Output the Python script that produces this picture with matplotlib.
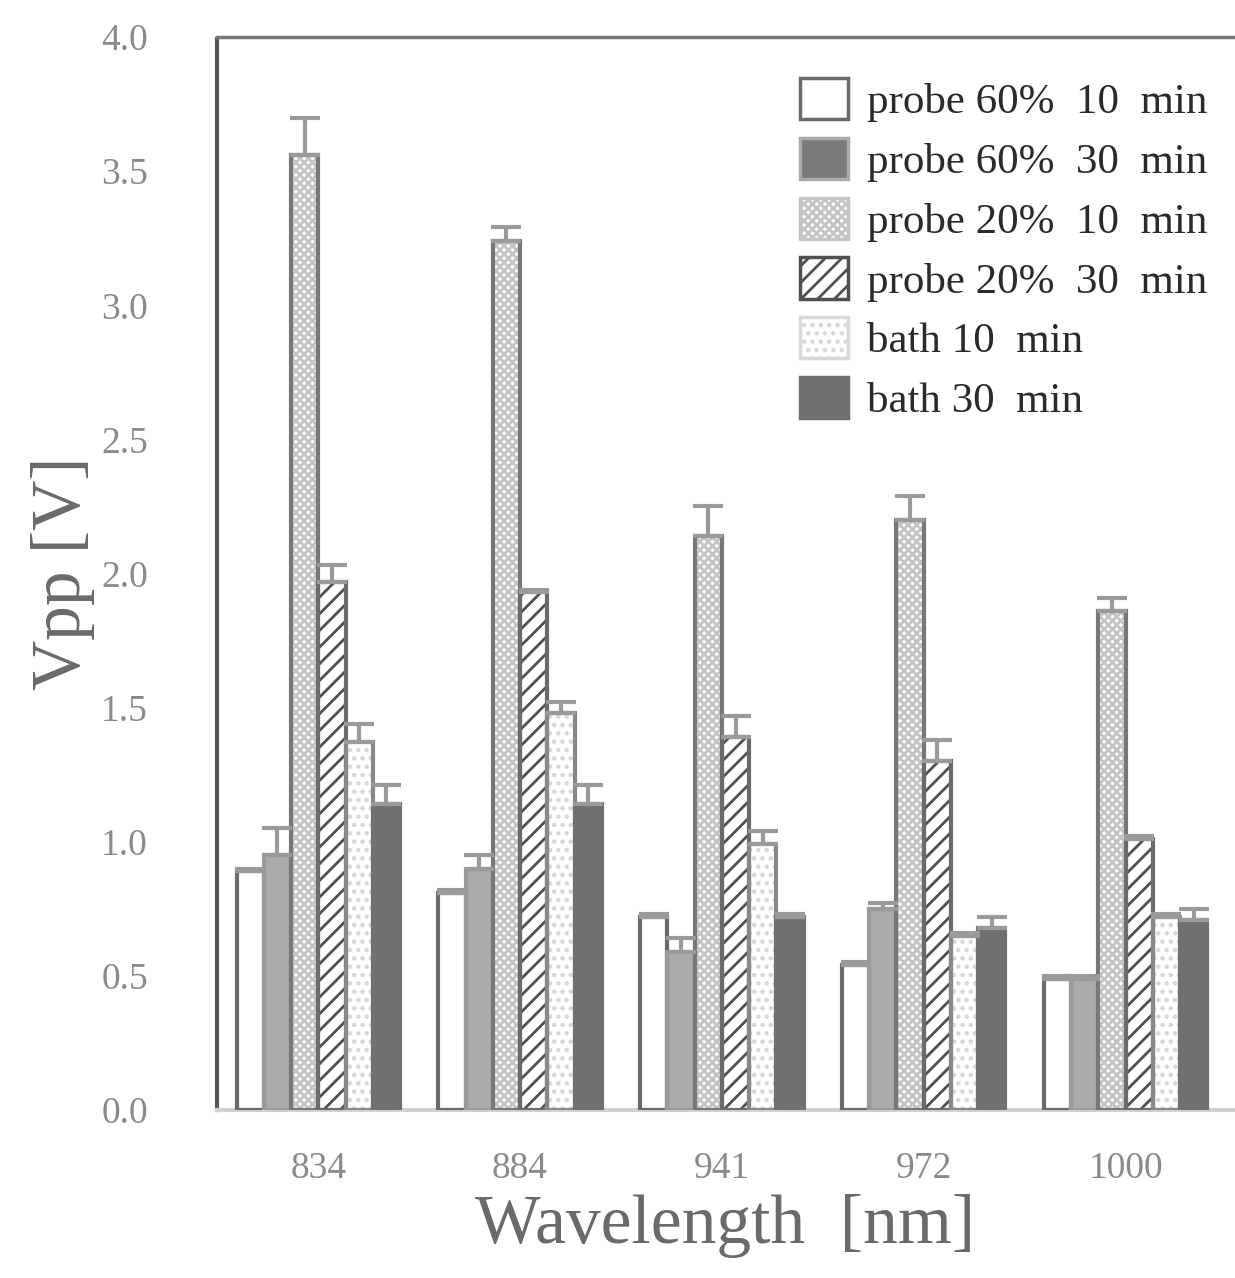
import numpy as np
import matplotlib.pyplot as plt
from matplotlib.patches import Patch

# ------------------------------------------------------------
# Data
# ------------------------------------------------------------
wavelengths = ["834", "884", "941", "972", "1000"]

series_labels = [
    "probe 60%  10  min",
    "probe 60%  30  min",
    "probe 20%  10  min",
    "probe 20%  30  min",
    "bath 10  min",
    "bath 30  min",
]

p60_10 = [0.89, 0.81, 0.72, 0.54, 0.49]
p60_30 = [0.95, 0.90, 0.59, 0.75, 0.49]
p20_10 = [3.56, 3.24, 2.14, 2.20, 1.86]
p20_30 = [1.97, 1.93, 1.39, 1.30, 1.01]
bath_10 = [1.37, 1.48, 0.99, 0.65, 0.72]
bath_30 = [1.14, 1.14, 0.72, 0.68, 0.71]

err_p60_10 = [0.01, 0.01, 0.01, 0.01, 0.01]
err_p60_30 = [0.10, 0.05, 0.05, 0.02, 0.01]
err_p20_10 = [0.14, 0.05, 0.11, 0.09, 0.05]
err_p20_30 = [0.06, 0.01, 0.08, 0.08, 0.01]
err_bath_10 = [0.07, 0.04, 0.05, 0.01, 0.01]
err_bath_30 = [0.07, 0.07, 0.01, 0.04, 0.04]

values = [p60_10, p60_30, p20_10, p20_30, bath_10, bath_30]
errors = [err_p60_10, err_p60_30, err_p20_10, err_p20_30, err_bath_10, err_bath_30]

# styles: (facecolor, hatch colour, hatch, outline colour)
styles = [
    ("white", "#6a6a6a", "", "#6a6a6a"),
    ("#ababab", "#ababab", "", "#9a9a9a"),
    ("white", "#c4c4c4", "xxxx", "#777777"),
    ("white", "#505050", "//", "#6a6a6a"),
    ("white", "#d8d8d8", "..", "#888888"),
    ("#707070", "#888888", "", "#707070"),
]

# ------------------------------------------------------------
# Figure
# ------------------------------------------------------------
plt.rcParams["font.family"] = ["Liberation Serif", "DejaVu Serif"]
plt.rcParams["hatch.linewidth"] = 2.0

fig = plt.figure(figsize=(12.35, 12.78), dpi=100)
ax = fig.add_axes([0.176, 0.1315, 0.822, 0.8395])

x = np.arange(len(wavelengths))
width = 0.135
offsets = (np.arange(6) - 2.5) * width

for i in range(6):
    face, hcol, hatch, edge = styles[i]
    pos = x + offsets[i]
    ax.bar(pos, values[i], width, color=face, edgecolor=hcol,
           hatch=hatch, linewidth=0, zorder=2)
    ax.bar(pos, values[i], width, fill=False, edgecolor=edge,
           linewidth=3, zorder=3)
    ax.errorbar(pos, values[i], yerr=[np.zeros(5), errors[i]],
                fmt="none", ecolor="#9a9a9a", elinewidth=3,
                capsize=11, capthick=3, zorder=4)

# legend handles (the 30 min probe 60% swatch is darker in the legend)
handles = []
for i in range(6):
    face, hcol, hatch, edge = styles[i]
    if i == 1:
        face = "#7a7a7a"
        edge = "#aaaaaa"
    handles.append(Patch(facecolor=face, edgecolor=hcol if hatch else edge,
                         hatch=hatch, linewidth=2.5))
leg = ax.legend(handles, series_labels, loc="upper right",
                bbox_to_anchor=(1.005, 0.99), frameon=False, fontsize=31,
                handlelength=1.1, handleheight=1.1, handletextpad=0.45,
                labelspacing=0.36, borderaxespad=0.3)
for t in leg.get_texts():
    t.set_color("#2a2a2a")

ax.set_ylim(0, 4.0)
ax.set_xlim(-0.5, 4.53)
ax.set_yticks(np.arange(0, 4.01, 0.5))
ax.set_yticklabels([f"{v:.1f}" for v in np.arange(0, 4.01, 0.5)])
ax.set_xticks(x)
ax.set_xticklabels(wavelengths)
ax.tick_params(axis="both", length=0, labelsize=27, labelcolor="#8a8a8a")
ax.tick_params(axis="x", pad=30)
ax.tick_params(axis="y", pad=50)

ax.set_ylabel("Vpp [V]", fontsize=50, color="#6a6a6a", labelpad=4)
ax.set_xlabel("Wavelength  [nm]", fontsize=50, color="#6a6a6a", labelpad=6)

ax.spines["left"].set_linestyle((0, (1, 1)))
ax.spines["left"].set_color("#555555")
ax.spines["left"].set_linewidth(3)
ax.spines["top"].set_linestyle((0, (1, 1)))
ax.spines["top"].set_color("#777777")
ax.spines["top"].set_linewidth(2.5)
ax.spines["bottom"].set_color("#d0d0d0")
ax.spines["bottom"].set_linewidth(3)
ax.spines["right"].set_visible(False)

fig.savefig("out.png", dpi=100)
